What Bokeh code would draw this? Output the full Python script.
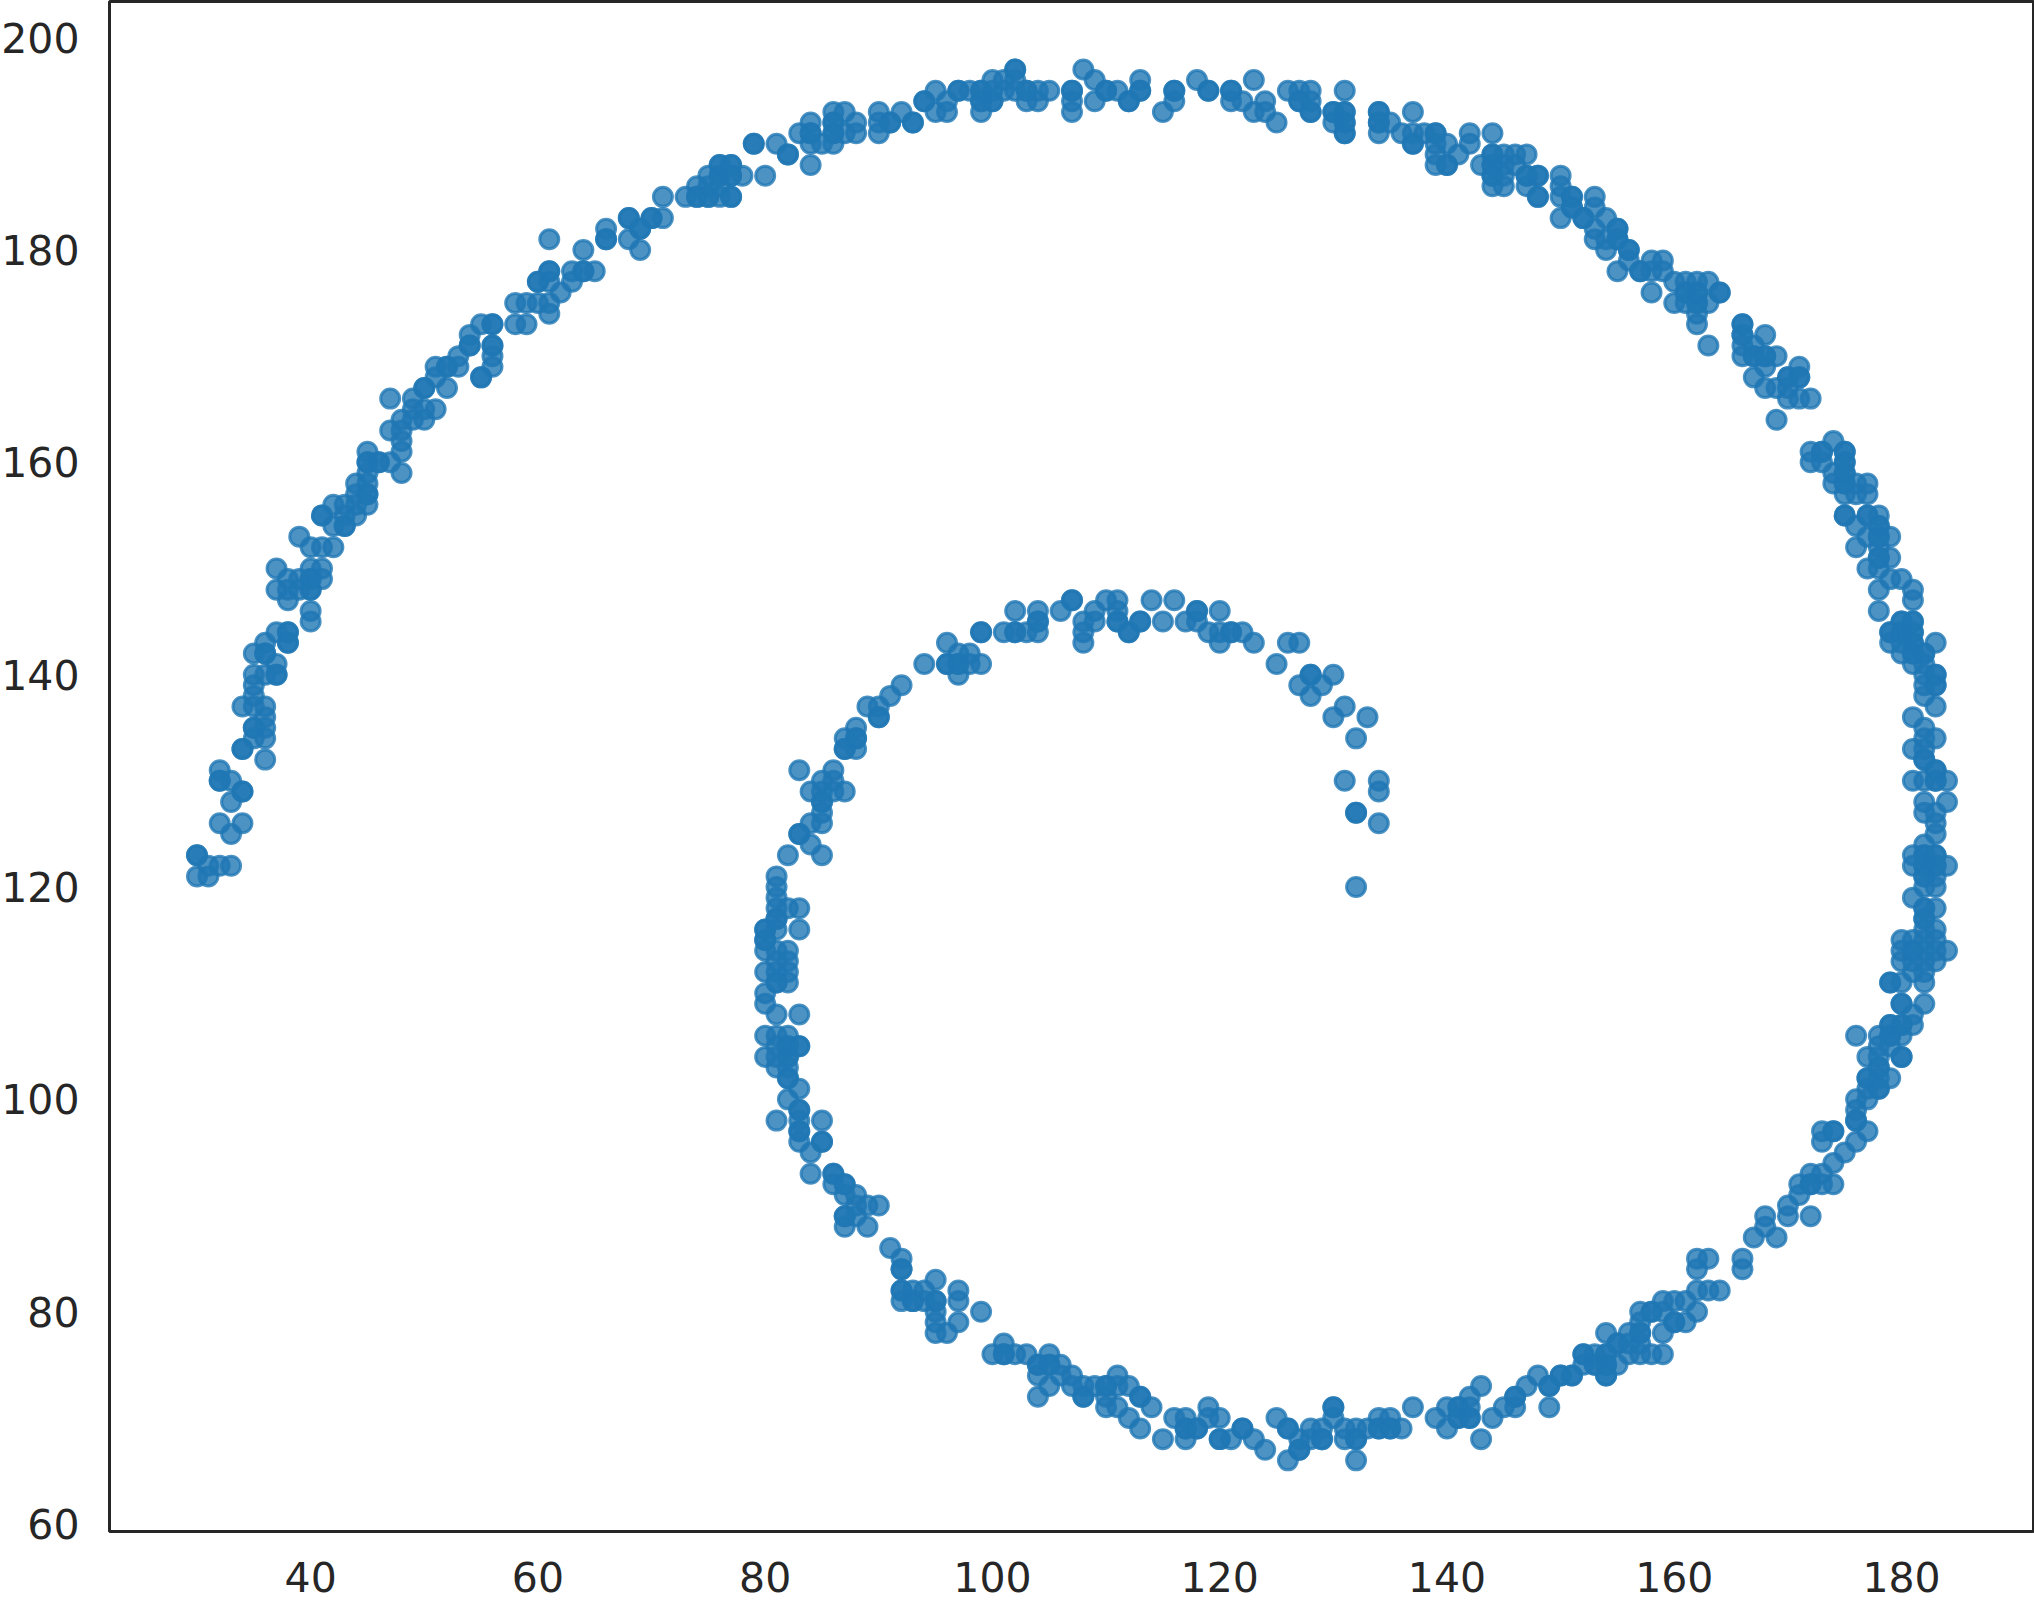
from bokeh.plotting import figure
from bokeh.models import Range1d, FixedTicker
from bokeh.embed import file_html
from bokeh.resources import INLINE

x_ticks = [40, 60, 80, 100, 120, 140, 160, 180]
y_ticks = [60, 80, 100, 120, 140, 160, 180, 200]

arc_tail = [(30,123),(30,121),(31,121),(31,122),(32,122),(33,122),(32,126),(34,126),(33,125),(32,131),(32,130),(33,130),(34,129),(33,128),
 (34,133),(36,132),(36,134),(35,134),(35,135),(36,135),(36,136),(36,137),(35,137),(34,137),(35,138),(35,139),(35,140),(36,140),(37,140),(37,141),
 (35,142),(36,142),(36,143),(37,144),(38,144),(38,143),(40,145),(40,146),(37,148),(38,147),(37,150),(38,149),(38,148),(39,149),(39,148),(40,148),(40,149),(40,150),(41,150),(41,149),
 (39,153),(40,152),(41,152),(42,152),(41,155),(42,156),(42,154),(43,154),(43,155),(43,156),(44,155),(44,156),(45,156),(44,157),(45,157),(45,158),(44,158),(45,159),(45,160),(45,161),(46,160),(47,160),(48,159),
 (48,161),(48,162),(48,163),(47,163),(48,164),(47,166),(51,165),(50,164),(49,164),(50,165),(49,165),(49,166),(50,167),(51,169),(51,168),(52,167),(52,169),(53,170),(53,169),(54,172),(54,171),(55,173),(56,173),(55,168),(56,171),(56,170),(56,169)]

arc_top_left = [(58,175),(59,175),(60,175),(61,175),(61,174),(58,173),(59,173),(62,176),(63,177),(60,177),(61,177),(61,178),(61,181),(64,180),(63,178),(64,178),(65,178),(66,182),(66,181),(68,183),(68,181),(69,182),(69,180),(70,183),(71,183),(71,185),
 (73,185),(74,185),(74,186),(75,185),(75,187),(75,186),(76,188),(76,187),(76,186),(76,185),(77,188),(77,187),(77,185),(78,187),(80,187),(79,190),(81,190),(82,189),(84,188),
 (84,192),(83,191),(84,191),(84,190),(85,190),(86,193),(86,192),(86,191),(86,190),(87,193),(87,191),(88,192),(88,191),(90,193),(90,192),(90,191),(91,192),(92,193),(93,192),
 (94,194),(95,195),(95,193),(96,194),(96,193),(97,195),(98,195),(99,195),(99,194),(99,193),(100,196),(100,194),(100,195)]

arc_top_right = [(101,196),(101,195),(102,197),(102,196),(103,195),(102,195),(103,194),(104,195),(104,194),(105,195),(107,195),(107,194),(107,193),
 (108,197),(109,196),(109,194),(110,195),(111,195),(112,194),(113,196),(113,195),(115,193),(116,195),(116,194),(118,196),(119,195),(121,195),(121,194),(122,194),(123,196),(123,193),(124,194),(124,193),(125,192),
 (126,195),(127,195),(127,194),(128,195),(128,194),(128,193),(130,193),(130,192),(131,195),(131,193),(131,192),(131,191),(134,193),(134,192),(134,191),(135,192),(136,191),(137,193),(137,191),(137,190),(138,191),(139,191),(139,190),(139,189),(139,188),
 (140,190),(140,188),(141,189),(142,191),(142,190),(143,188),(144,191),(144,189),(144,188),(144,187),(144,186),(145,189),(145,188),(145,187),(145,186),(146,189),(146,188),(147,189),(147,187),(147,186),(148,187),(148,185)]

arc_right_upper = [(150,187),(150,186),(150,185),(150,183),(151,185),(151,184),(152,183),(153,185),(153,184),(153,182),(153,181),(154,183),(154,181),(154,180),(155,182),(155,181),(155,178),(156,180),(156,179),(157,178),(158,179),(158,178),(158,176),(159,179),(159,178),
 (160,177),(160,175),(161,177),(161,176),(161,175),(162,177),(162,176),(162,175),(162,174),(162,173),(163,177),(163,175),(164,176),(163,171),
 (166,173),(166,172),(166,171),(166,170),(167,171),(167,170),(168,172),(168,170),(168,169),(167,168),(169,170),(168,167),(169,167),(170,168),(170,167),(170,166),(171,169),(171,168),(171,166),(172,166),(169,164),
 (172,161),(172,160),(173,161),(173,160),(174,162),(175,161),(175,160),(174,159),(174,158),(175,159),(175,158),(175,157),(176,158),(176,157),(177,158),(177,157),
 (175,155),(177,155),(178,155),(176,154),(178,154),(177,153),(178,153),(179,153),(176,152),(178,152),(178,151),(179,151),(177,150),(178,150)]

arc_right = [(179,149),(180,149),(178,148),(181,148),(181,147),(178,146),(180,145),(181,145),(179,144),(180,144),(181,144),(179,143),(180,143),(181,143),(183,143),(180,142),(181,142),(182,142),(181,141),(182,141),(182,140),(183,140),(182,139),(183,139),(182,138),(183,137),
 (181,136),(182,135),(182,134),(183,134),(181,133),(182,133),(182,132),(183,131),(181,130),(182,130),(183,130),(184,130),(182,128),(184,128),(182,127),(183,127),(183,126),(183,125),
 (182,124),(181,123),(182,123),(183,123),(181,122),(182,122),(183,122),(184,122),(182,121),(183,121),(182,120),(183,120),(181,119),(182,118),(183,118),(182,117),(182,116),(183,116),(183,115),(182,115),(180,115),(181,115),
 (180,114),(181,114),(182,114),(183,114),(184,114),(180,113),(181,113),(182,113),(183,113),(181,112),(182,112),(179,111),(180,111),(182,111),(180,109),(182,109),(181,108),(179,107),(180,107),(181,107),(176,106),(178,106),(179,106),(180,106)]

arc_right_lower = [(178,105),(179,105),(177,104),(178,104),(180,104),(178,103),(177,102),(178,102),(179,102),(178,101),(177,101),(176,100),(177,100),(176,99),(176,98),(177,97),(176,96),(175,95),(174,94),(173,97),(174,97),(173,96),
 (172,93),(173,93),(171,92),(172,92),(173,92),(174,92),(171,91),(170,90),(170,89),(172,89),(168,89),(168,88),(167,87),(169,87),(166,85),(166,84),(162,85),(163,85),(162,84),(162,82),(163,82),(164,82),
 (159,81),(160,81),(161,81),(157,80),(158,80),(159,80),(162,80),(160,79),(161,79),(157,79),(154,78),(156,78),(157,78),(159,78),(155,77),(156,77),(157,77),(156,76),(157,76),(158,76),(159,76),
 (152,76),(153,76),(154,76),(152,75),(153,75),(154,75),(155,75),(154,74),(150,74),(151,74),(149,73)]

arc_bottom = [(115,68),(116,70),(117,70),(117,68),(117,69),(118,69),(119,71),(119,70),(120,70),(120,68),(121,68),(122,69),(123,68),(124,67),(125,70),(126,69),(126,66),(127,68),(127,67),(128,69),(128,68),(129,69),(129,68),(130,71),(130,70),(131,69),(131,68),(132,69),(132,68),(132,66),(133,69),(134,70),(134,69),(135,70),(135,69),(136,69),(137,71),
 (139,70),(140,71),(140,69),(141,71),(141,70),(142,72),(142,71),(142,70),(143,73),(143,68),(144,70),(145,71),(146,72),(146,71),(147,73),(148,74),(149,71)]

arc_bottom_left = [(89,88),(90,90),(88,89),(89,90),(88,90),(91,86),(92,85),(92,84),(92,82),(92,81),(93,82),(93,81),(94,82),(94,81),(95,83),(95,81),(95,80),(95,79),(95,78),(96,78),(97,82),(97,81),(97,79),(99,80),
 (100,76),(101,77),(101,76),(102,76),(103,76),(104,75),(104,74),(104,72),(105,76),(105,75),(105,73),(106,75),(106,74),(107,74),(107,73),(108,73),(108,72),(109,73),(110,73),(110,72),(110,71),(111,74),(111,73),(111,71),(112,73),(112,70),(113,72),(113,69),(114,71)]

arc_inner_left = [(82,123),(84,124),(85,123),(83,125),(81,121),(81,120),(81,119),(81,118),(82,118),(83,118),(81,117),(80,116),(81,116),(83,116),(80,115),(80,114),(81,114),(82,114),(81,113),(82,113),(80,112),(81,112),(82,112),(81,111),(82,111),(80,110),(80,109),(81,108),(83,108),
 (80,106),(81,106),(82,106),(80,104),(81,105),(82,105),(83,105),(81,104),(82,104),(81,103),(82,103),(82,102),(83,101),(82,100),(83,99),(81,98),(83,98),(85,98),(83,97),(83,96),(85,96),(84,95),(84,93),(86,93),(86,92),(87,92),(87,91),(88,91),(87,89),(88,89),(87,88)]

arc_inner_top = [(84,126),(85,126),(85,127),(85,128),(84,129),(85,129),(85,130),(86,129),(86,130),(86,131),(87,129),(83,131),(87,133),(88,133),(87,134),(88,134),(88,135),(89,137),(90,137),(90,136),(91,138),(92,139),
 (94,141),(96,141),(96,143),(97,141),(97,142),(97,140),(98,142),(98,141),(99,141),(99,144),(101,144),(102,144),(102,146),(103,144),(104,144),(104,146),(104,145),(106,146),(107,147),(108,145),(108,144),(108,143),(109,146),(109,145),(110,147),(111,147),(111,146),(111,145),(112,144),
 (113,145),(114,147),(116,147),(115,145),(117,145),(118,146),(118,145),(120,146),(119,144),(120,144),(120,143),(121,144),(122,144),(123,143),(126,143),(127,143),(125,141),(128,140),(130,140),(127,139),(129,139),(128,138),(131,137),(130,136),(133,136),(132,134),(131,130),(134,130),(134,129),(132,127),(134,126),(132,120)]

# points that sit on top of one another (they read darker in the picture)
doubled = [(30,123),(32,130),(34,129),(34,133),(35,135),(37,140),(36,142),(38,144),(38,143),(40,148),(40,149),(41,155),(43,154),(45,157),(45,160),(46,160),(50,167),(52,169),(54,171),(56,173),(55,168),(56,171),
 (60,177),(61,178),(64,178),(66,181),(68,183),(69,182),(70,183),(74,185),(75,185),(76,188),(76,187),(77,188),(77,187),(77,185),(79,190),(82,189),(84,191),(86,192),(86,191),(91,192),(93,192),(94,194),(97,195),(99,195),(99,194),(100,194),
 (102,197),(103,195),(107,195),(110,195),(112,194),(113,195),(116,195),(119,195),(121,195),(127,194),(128,193),(130,193),(131,193),(131,192),(131,191),(134,193),(134,192),(137,190),(139,191),(140,188),(144,189),(144,188),(144,187),(147,187),(148,187),(148,185),
 (151,185),(151,184),(152,183),(155,182),(155,181),(156,180),(157,178),(161,176),(162,176),(162,175),(164,176),(166,173),(166,172),(167,170),(168,170),(170,168),(171,168),(173,161),(175,161),(175,160),(175,159),(175,158),(175,155),(177,155),(178,154),(178,153),(178,151),
 (180,145),(181,145),(179,144),(180,144),(181,144),(181,143),(181,142),(182,142),(183,140),(183,139),(182,132),(183,131),(183,130),(182,123),(183,123),(182,122),(183,122),(182,121),(182,118),(182,117),(181,114),(179,111),(180,109),(179,107),(180,107),(179,106),
 (180,104),(178,103),(177,102),(178,101),(176,98),(174,97),(172,92),(158,80),(160,79),(157,78),(155,77),(152,76),(154,76),(153,75),(154,75),(154,74),(150,74),(151,74),(149,73),
 (117,69),(118,69),(120,68),(122,69),(126,69),(127,67),(129,68),(130,71),(132,68),(134,69),(135,69),(141,71),(141,70),(142,70),(146,72),
 (92,84),(92,82),(93,81),(95,81),(101,76),(104,75),(105,75),(108,72),(110,73),(113,72),
 (83,125),(81,117),(80,116),(80,115),(81,111),(82,105),(83,105),(82,104),(82,102),(83,99),(83,97),(85,96),(86,93),(87,92),(87,89),
 (85,128),(87,133),(88,134),(90,136),(96,141),(97,141),(99,144),(102,144),(104,145),(107,147),(111,145),(112,144),(113,145),(118,146),(121,144),(128,140),(132,127)]

arcs = [arc_tail, arc_top_left, arc_top_right, arc_right_upper, arc_right, arc_right_lower, arc_bottom, arc_bottom_left, arc_inner_left, arc_inner_top]
unique = sorted({pt for arc in arcs for pt in arc})
points = unique + sorted(set(doubled))
x_values = [pt[0] for pt in points]
y_values = [pt[1] for pt in points]

INK = "#262626"
BLUE = "#1f77b4"

p = figure(width=2037, height=1601, output_backend="svg", toolbar_location=None,
           x_range=Range1d(22.3, 191.7), y_range=Range1d(59.3, 203.4),
           min_border_left=112, min_border_right=0, min_border_top=1, min_border_bottom=70,
           margin=(0, 0, 0, -3), background_fill_color="white", border_fill_color="white")
p.grid.visible = False
p.outline_line_color = INK
p.outline_line_width = 3

p.scatter(x_values, y_values, size=19, marker="circle", fill_color=BLUE, line_color=BLUE,
          fill_alpha=0.8, line_alpha=0.8, line_width=3)

for ax, ticks in ((p.xaxis[0], x_ticks), (p.yaxis[0], y_ticks)):
    ax.ticker = FixedTicker(ticks=ticks)
    ax.major_tick_line_color = None
    ax.minor_tick_line_color = None
    ax.axis_line_color = None
    ax.major_label_text_color = INK
    ax.major_label_text_font = "DejaVu Sans"
    ax.major_label_text_font_size = "41px"
p.xaxis[0].major_label_standoff = 24
p.yaxis[0].major_label_standoff = 24

open("out.html", "w").write(file_html(p, INLINE))
